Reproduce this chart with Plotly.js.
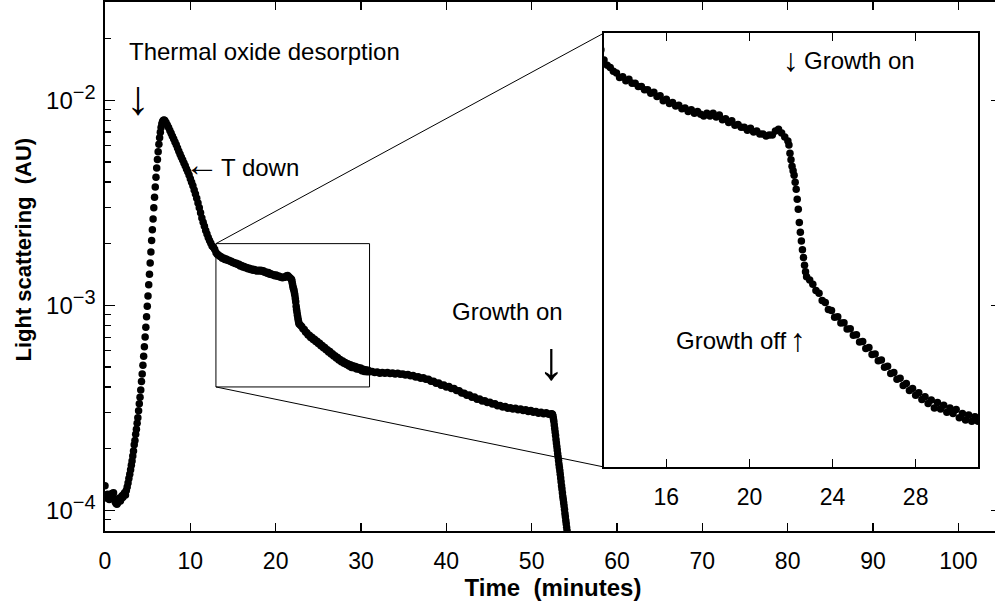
<!DOCTYPE html>
<html>
<head>
<meta charset="utf-8">
<script src="https://cdn.plot.ly/plotly-3.0.1.min.js"></script>
<style>
html, body { margin: 0; padding: 0; overflow: hidden; background: #fff; }
#chart { width: 1001px; height: 605px; }
</style>
</head>
<body>
<div id="chart"></div>
<script>
// Values are in units of 1e-4 AU
const UNIT = 1e-4;

const baseT = [0.0,0.1,0.2,0.3,0.4,0.5,0.6,0.7,0.8,0.9,1.0,1.1,1.2,1.3,1.4,1.5,1.6,1.7,1.8,1.9,2.0,2.1,2.2,2.3,2.4,2.5,2.6,2.7,2.8,2.9];
const baseV = [1.32,1.18,1.15,1.20,1.16,1.13,1.15,1.17,1.21,1.18,1.22,1.14,1.10,1.08,1.07,1.09,1.12,1.15,1.11,1.14,1.18,1.16,1.20,1.22,1.19,1.25,1.30,1.36,1.43,1.50];

const riseT = [3.000,3.085,3.170,3.255,3.340,3.425,3.510,3.595,3.680,3.765,3.850,3.935,4.020,4.105,4.190,4.275,4.360,4.445,4.530,4.615,4.700,4.785,4.870,4.955,5.040,5.125,5.210,5.295,5.380,5.465,5.550,5.635,5.720,5.805,5.890,5.975,6.060,6.145,6.230,6.315,6.400,6.485,6.570,6.655,6.740,6.825,6.910];
const riseV = [1.58,1.66,1.74,1.84,1.95,2.09,2.19,2.35,2.49,2.66,2.83,3.06,3.31,3.56,3.87,4.25,4.63,5.10,5.65,6.28,7.00,7.83,8.79,9.89,11.1,12.6,14.2,16.1,18.2,20.7,23.4,26.4,29.9,33.7,37.8,42.2,46.8,51.5,56.2,61.0,65.6,69.8,73.6,76.6,78.7,79.8,80.2];

const fallT = [7.00,7.15,7.30,7.45,7.60,7.75,7.90,8.05,8.20,8.35,8.50,8.65,8.80,8.95,9.10,9.25,9.40,9.55,9.70,9.85,10.00,10.15,10.30,10.45,10.60,10.75,10.90,11.05,11.20,11.35,11.50,11.65,11.80,11.95,12.10,12.25,12.40,12.55,12.70,12.85,13.00];
const fallV = [79.8,78.0,75.8,73.6,71.3,69.0,66.8,64.7,62.6,60.7,58.5,56.4,54.5,52.8,51.1,49.4,47.9,46.3,44.8,43.2,41.5,39.9,38.3,36.5,34.9,33.3,31.6,29.9,28.3,26.7,25.4,24.3,23.2,22.3,21.4,20.7,20.1,19.5,19.2,18.8,18.1];

const plateauT = [13.15,13.30,13.45,13.60,13.75,13.90,14.05,14.20,14.35,14.50,14.65,14.80,14.95,15.10,15.25,15.40,15.55,15.70,15.85,16.00,16.15,16.30,16.45,16.60,16.75,16.90,17.05,17.20,17.35,17.50,17.65,17.80,17.95,18.10,18.25,18.40,18.55,18.70,18.85,19.00,19.15,19.30,19.45,19.60,19.75,19.90,20.05,20.20,20.35,20.50,20.65,20.80,20.95,21.10,21.25,21.40,21.55,21.70,21.85];
const plateauV = [17.75,17.6,17.35,17.25,16.95,17.0,16.75,16.85,16.6,16.6,16.4,16.4,16.2,16.2,16.0,16.05,15.8,15.85,15.55,15.65,15.4,15.45,15.25,15.3,15.1,15.15,14.95,15.05,14.85,14.95,14.8,14.7,14.85,14.7,14.85,14.65,14.75,14.5,14.55,14.35,14.45,14.2,14.25,14.1,14.1,13.95,14.05,13.85,13.9,13.75,13.75,13.65,13.7,13.7,13.9,14.0,13.8,13.6,13.4];

const dropT = [21.90,21.95,22.00,22.05,22.10,22.15,22.20,22.25,22.30,22.35,22.40,22.45,22.50,22.55,22.60,22.65,22.70,22.75];
const dropV = [13.2,12.8,12.5,12.2,12.0,11.8,11.5,11.2,10.8,10.4,9.9,9.55,9.25,8.95,8.7,8.45,8.25,8.1];

const decayT = [22.90,23.05,23.20,23.35,23.50,23.65,23.80,23.95,24.10,24.25,24.40,24.55,24.70,24.85,25.00,25.15,25.30,25.45,25.60,25.75,25.90,26.05,26.20,26.35,26.50,26.65,26.80,26.95,27.10,27.25,27.40,27.55,27.70,27.85,28.00,28.15,28.30,28.45,28.60,28.75,28.90,29.05,29.20,29.35,29.50,29.65,29.80,29.95,30.10,30.25,30.40,30.55,30.70,30.85,31.00];
const decayV = [8.0,7.88,7.7,7.62,7.42,7.36,7.17,7.15,6.97,6.98,6.82,6.83,6.67,6.68,6.52,6.53,6.36,6.37,6.21,6.23,6.07,6.08,5.93,5.95,5.79,5.81,5.66,5.68,5.54,5.56,5.41,5.45,5.31,5.35,5.22,5.27,5.14,5.19,5.06,5.13,4.98,5.08,4.96,5.03,4.9,4.98,4.88,4.95,4.8,4.88,4.76,4.85,4.74,4.82,4.74];

const tailT = [31.3,31.6,31.9,32.2,32.5,32.8,33.1,33.4,33.7,34.0,34.3,34.6,34.9,35.2,35.5,35.8,36.1,36.4,36.7,37.0,37.3,37.6,37.9,38.2,38.5,38.8,39.1,39.4,39.7,40.0,40.3,40.6,40.9,41.2,41.5,41.8,42.1,42.4,42.7,43.0,43.3,43.6,43.9,44.2,44.5,44.8,45.1,45.4,45.7,46.0,46.3,46.6,46.9,47.2,47.5,47.8,48.1,48.4,48.7,49.0,49.3,49.6,49.9,50.2,50.5,50.8,51.1,51.4,51.7,52.0,52.3];
const tailV = [4.76,4.70,4.73,4.67,4.71,4.66,4.70,4.65,4.68,4.63,4.67,4.61,4.63,4.57,4.60,4.53,4.55,4.47,4.49,4.41,4.43,4.36,4.36,4.27,4.27,4.17,4.18,4.08,4.09,4.00,4.02,3.93,3.93,3.84,3.83,3.74,3.73,3.64,3.65,3.56,3.57,3.48,3.49,3.42,3.43,3.36,3.37,3.30,3.31,3.24,3.25,3.19,3.21,3.15,3.17,3.12,3.15,3.10,3.12,3.07,3.10,3.04,3.07,3.01,3.04,2.98,3.01,2.96,2.99,2.94,2.96];

const cutT = [52.40,52.45,52.50,52.55,52.60,52.65,52.70,52.75,52.80,52.85,52.90,52.95,53.00,53.05,53.10,53.15,53.20,53.25,53.30,53.35,53.40,53.45,53.50,53.55,53.60,53.65,53.70,53.75,53.80,53.85,53.90,53.95,54.00,54.05,54.10,54.15,54.20,54.25,54.30];
const cutV = [2.95,2.93,2.88,2.80,2.72,2.61,2.51,2.41,2.32,2.22,2.13,2.05,1.97,1.89,1.82,1.75,1.68,1.62,1.56,1.50,1.44,1.38,1.32,1.27,1.22,1.17,1.13,1.09,1.05,1.01,0.966,0.930,0.893,0.860,0.826,0.795,0.764,0.735,0.705];

// Axis ticks / labels
const mainXTicks = [0,10,20,30,40,50,60,70,80,90,100];
const mainYTicks = [1e-4, 1e-3, 1e-2];
const supStyle = 'font-size:20px';
const mainYTickText = ['−4', '−3', '−2'].map(e => '10<sup><span style="' + supStyle + '">' + e + '</span></sup>');
const insetXTicks = [16, 20, 24, 28];
const zoomX = [13, 31];
const zoomY = [4e-4, 2e-3];

const time = [].concat(baseT, riseT, fallT, plateauT, dropT, decayT, tailT, cutT);
const signal = [].concat(baseV, riseV, fallV, plateauV, dropV, decayV, tailV, cutV).map(v => v * UNIT);

// minor tick positions (2..9 per decade)
const minorVals = [];
for (let e = -5; e <= -2; e++) for (let m = 2; m <= 9; m++) minorVals.push(m * Math.pow(10, e));

// Geometry
const W = 1001, H = 605;
const M = {l: 105, r: 0, t: 2, b: 74};
const PW = W - M.l - M.r, PH = H - M.t - M.b;
const xRange = [0, 105];
const yRange = [-4.1005, -1.5205];
const px2paperX = px => (px - M.l) / PW;
const px2paperY = py => (H - M.b - py) / PH;
const insetDomX = [px2paperX(604), px2paperX(978)];
const insetDomY = [px2paperY(467), px2paperY(33)];

const FONT = '"Liberation Sans", Arial, Helvetica, sans-serif';

const mk = {color: '#000', size: 7.5};
const mainTrace = {x: time, y: signal, type: 'scatter', mode: 'markers', marker: mk, xaxis: 'x', yaxis: 'y', hoverinfo: 'skip'};
const insetTrace = {x: time, y: signal, type: 'scatter', mode: 'markers', marker: mk, xaxis: 'x2', yaxis: 'y2', hoverinfo: 'skip'};

const toPaperFromData = (x, y) => [
  (x - xRange[0]) / (xRange[1] - xRange[0]),
  (Math.log10(y) - yRange[0]) / (yRange[1] - yRange[0])
];
const cTop = toPaperFromData(zoomX[0], zoomY[1]);
const cBot = toPaperFromData(zoomX[0], zoomY[0]);
const cTopR = toPaperFromData(zoomX[1], zoomY[1]);

const ann = (text, px, py, opts) => Object.assign({
  text: text, xref: 'paper', yref: 'paper', x: px2paperX(px), y: px2paperY(py),
  showarrow: false, xanchor: 'left', yanchor: 'middle',
  font: {family: FONT, size: 24, color: '#000'}
}, opts || {});
const arrowAnn = (ch, px, py, size) => ann(ch, px, py, {xanchor: 'center', font: {family: FONT, size: size, color: '#000'}});

const tickFont = {family: FONT, size: 23, color: '#000'};

const layout = {
  width: W, height: H,
  margin: {l: M.l, r: M.r, t: M.t, b: M.b, pad: 0},
  paper_bgcolor: '#fff', plot_bgcolor: '#fff',
  showlegend: false,
  font: {family: FONT, size: 22, color: '#000'},
  xaxis: {
    domain: [0, 1], range: xRange, anchor: 'y',
    tickmode: 'array', tickvals: mainXTicks,
    ticks: 'inside', ticklen: 8, tickwidth: 1.2, tickcolor: '#000',
    showline: true, linewidth: 1.6, linecolor: '#000', mirror: 'ticks',
    showgrid: false, zeroline: false,
    tickfont: tickFont,
    ticklabelstandoff: 9,
    title: {text: '<b>Time\u00A0 (minutes)</b>', font: {family: FONT, size: 24, color: '#000'}, standoff: 6}
  },
  yaxis: {
    domain: [0, 1], type: 'log', range: yRange, anchor: 'x',
    tickmode: 'array', tickvals: mainYTicks, ticktext: mainYTickText,
    ticks: 'inside', ticklen: 10, tickwidth: 1.2, tickcolor: '#000',
    minor: {tickmode: 'array', tickvals: minorVals, ticks: 'inside', ticklen: 6, tickwidth: 1.2, tickcolor: '#000', showgrid: false},
    showline: true, linewidth: 1.6, linecolor: '#000', mirror: 'ticks',
    showgrid: false, zeroline: false,
    tickfont: {family: FONT, size: 24, color: '#000'},
    ticklabelstandoff: 3
  },
  xaxis2: {
    domain: insetDomX, range: zoomX, anchor: 'y2',
    tickmode: 'array', tickvals: insetXTicks,
    ticks: 'inside', ticklen: 8, tickwidth: 1.2, tickcolor: '#000',
    showline: true, linewidth: 1.6, linecolor: '#000', mirror: 'ticks',
    showgrid: false, zeroline: false,
    tickfont: tickFont,
    ticklabelstandoff: 9
  },
  yaxis2: {
    domain: insetDomY, type: 'log', range: [Math.log10(zoomY[0]), Math.log10(zoomY[1])], anchor: 'x2',
    showticklabels: false, ticks: '',
    showline: true, linewidth: 1.6, linecolor: '#000', mirror: true,
    showgrid: false, zeroline: false
  },
  shapes: [
    {type: 'rect', xref: 'paper', yref: 'paper', x0: cBot[0], x1: cTopR[0], y0: cBot[1], y1: cTop[1], line: {color: '#000', width: 1}},
    {type: 'line', xref: 'paper', yref: 'paper', x0: cTop[0], y0: cTop[1], x1: insetDomX[0], y1: insetDomY[1], line: {color: '#000', width: 1}},
    {type: 'line', xref: 'paper', yref: 'paper', x0: cBot[0], y0: cBot[1], x1: insetDomX[0], y1: insetDomY[0], line: {color: '#000', width: 1}}
  ],
  annotations: [
    ann('Thermal oxide desorption', 127, 51),
    arrowAnn('↓', 138, 97, 48),
    arrowAnn('←', 202, 164, 34),
    ann('T down', 219, 167),
    ann('Growth on', 507, 311, {xanchor: 'center'}),
    arrowAnn('↓', 551.5, 360, 54),
    arrowAnn('↓', 790.5, 60, 32),
    ann('Growth on', 802, 60),
    ann('Growth off', 674, 340),
    arrowAnn('↑', 797.5, 340, 32),
    ann('<b>Light scattering\u00A0 (AU)</b>', 22.5, 250, {xanchor: 'center', textangle: -90, font: {family: FONT, size: 22, color: '#000'}})
  ]
};

Plotly.newPlot('chart', [mainTrace, insetTrace], layout, {staticPlot: true, displayModeBar: false});
</script>
</body>
</html>
